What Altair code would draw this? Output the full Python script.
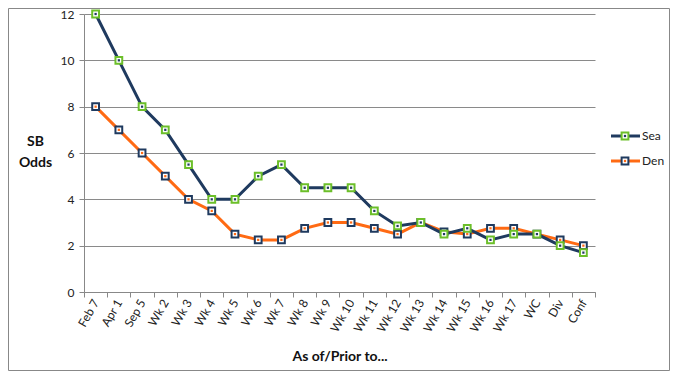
import altair as alt
import pandas as pd

categories = ["Feb 7", "Apr 1", "Sep 5", "Wk 2", "Wk 3", "Wk 4", "Wk 5", "Wk 6", "Wk 7",
              "Wk 8", "Wk 9", "Wk 10", "Wk 11", "Wk 12", "Wk 13", "Wk 14", "Wk 15",
              "Wk 16", "Wk 17", "WC", "Div", "Conf"]
sea = [12, 10, 8, 7, 5.5, 4, 4, 5, 5.5, 4.5, 4.5, 4.5, 3.5, 2.85, 3, 2.5, 2.75, 2.25, 2.5, 2.5, 2.0, 1.7]
den = [8, 7, 6, 5, 4, 3.5, 2.5, 2.25, 2.25, 2.75, 3, 3, 2.75, 2.5, 3, 2.6, 2.5, 2.75, 2.75, 2.5, 2.25, 2.0]
series_names = ["Sea", "Den"]
line_colors = ["#1F3A5F", "#FF6A13"]
marker_colors = ["#6CBF2A", "#1F3A5F"]

FONT = "Lato"
NAVY, ORANGE, GREEN = line_colors[0], line_colors[1], marker_colors[0]

rows = []
for i, c in enumerate(categories):
    rows.append({"cat": c, "series": "Sea", "odds": sea[i], "order": i})
    rows.append({"cat": c, "series": "Den", "odds": den[i], "order": i})
df = pd.DataFrame(rows)

W, H = 511, 278

x = alt.X("cat:N", sort=categories,
          scale=alt.Scale(type="band", paddingInner=0, paddingOuter=0),
          title="As of/Prior to...",
          axis=alt.Axis(labelAngle=-60, tickBand="extent", labelFont=FONT, labelFontSize=12,
                        labelColor="#222", domainColor="#888", tickColor="#888", tickSize=5,
                        titleFont=FONT, titleFontSize=14, titleFontWeight="bold",
                        titleColor="#111", titlePadding=16, labelPadding=3))
y = alt.Y("odds:Q", scale=alt.Scale(domain=[0, 12], nice=False),
          title=["SB", "Odds"],
          axis=alt.Axis(values=[0, 2, 4, 6, 8, 10, 12], grid=True, gridColor="#8a8a8a",
                        domainColor="#888", tickColor="#888", tickSize=5,
                        labelFont=FONT, labelFontSize=12, labelColor="#222", labelPadding=5,
                        titleFont=FONT, titleFontSize=14, titleFontWeight="bold",
                        titleColor="#111", titleAngle=0, titleAlign="center",
                        titleX=-49, titleY=H / 2 - 5, titleLineHeight=21))

base = alt.Chart(df)

def series_layers(name, lc, mc):
    d = base.transform_filter(alt.datum.series == name)
    line = d.mark_line(strokeWidth=3, color=lc).encode(x=x, y=y, order="order:Q")
    outer = d.mark_point(shape="square", size=46, filled=True, fill="white",
                         stroke=mc, strokeWidth=2, opacity=1).encode(x=x, y=y)
    inner = d.mark_point(shape="square", size=5, filled=True, color=lc if name == "Den" else NAVY,
                         opacity=1).encode(x=x, y=y)
    return [line, outer, inner]

layers = []
layers += series_layers("Den", ORANGE, NAVY)
layers += series_layers("Sea", NAVY, GREEN)

# legend
leg = pd.DataFrame({"series": series_names, "lc": line_colors, "mc": marker_colors,
                    "ypos": [122, 147]})
lbase = alt.Chart(leg)
leg_line = lbase.mark_rule(strokeWidth=3).encode(
    x=alt.value(527), x2=alt.value(556), y=alt.Y("ypos:Q", scale=None),
    color=alt.Color("lc:N", scale=None))
leg_outer = lbase.mark_point(shape="square", size=46, filled=True, fill="white",
                             strokeWidth=2, opacity=1).encode(
    x=alt.value(541), y=alt.Y("ypos:Q", scale=None), stroke=alt.Color("mc:N", scale=None))
leg_inner = lbase.mark_point(shape="square", size=5, filled=True, opacity=1).encode(
    x=alt.value(541), y=alt.Y("ypos:Q", scale=None),
    fill=alt.Fill("inner:N", scale=None)).transform_calculate(
    inner="datum.series == 'Sea' ? '#1F3A5F' : '#FF6A13'")
leg_text = lbase.mark_text(align="left", baseline="middle", font=FONT, fontSize=12,
                           color="#222").encode(
    x=alt.value(558), y=alt.Y("ypos:Q", scale=None), text="series:N")

# outer chart border
border = alt.Chart(pd.DataFrame({"a": [0]})).mark_rect(
    fill=None, stroke="#888", strokeWidth=1).encode(
    x=alt.value(-75.5), x2=alt.value(W + 74.5), y=alt.value(-5.5), y2=alt.value(H + 78.5))

chart = alt.layer(*layers, leg_line, leg_outer, leg_inner, leg_text, border).properties(
    width=W, height=H,
    autosize=alt.AutoSizeParams(type="none"),
    padding={"left": 76, "top": 6, "right": 75, "bottom": 79},
    background="white",
).configure_view(stroke=None)

chart.save("out.html", embed_options={"renderer": "svg", "actions": False})
